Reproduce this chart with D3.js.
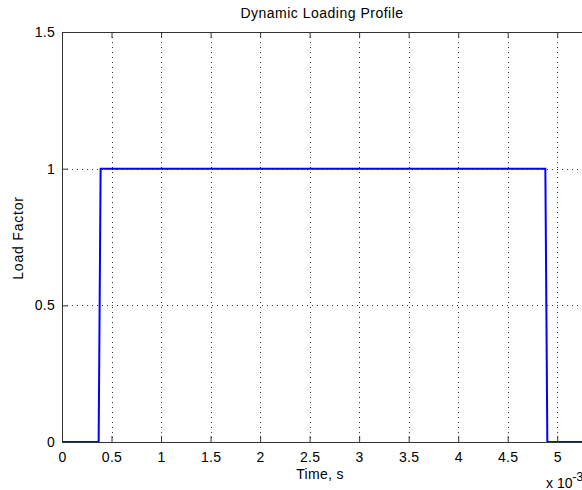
<!DOCTYPE html>
<html>
<head>
<meta charset="utf-8">
<script src="https://cdn.jsdelivr.net/npm/d3@7"></script>
<style>
  body { margin: 0; background: #fff; }
  text { font-family: "Liberation Sans", Arial, sans-serif; fill: #000; }
</style>
</head>
<body>
<svg width="582" height="490"></svg>
<script>
// time in units of 1e-3 s
var timeVals = [0, 0.37, 0.38, 0.39, 4.88, 4.89, 4.90, 5.6];
var loadVals = [0, 0, 0.5, 1, 1, 0.5, 0, 0];
var xTicks = [0, 0.5, 1, 1.5, 2, 2.5, 3, 3.5, 4, 4.5, 5];
var yTicks = [0, 0.5, 1, 1.5];

const pLeft = 62, pTop = 32, pRight = 582, pBottom = 442;

const svg = d3.select('svg');

const x = d3.scaleLinear().domain([0, 5.25]).range([pLeft, pRight]);
const y = d3.scaleLinear().domain([0, 1.5]).range([pBottom, pTop]);

// grid
const grid = svg.append('g').attr('stroke', '#333').attr('stroke-width', 1)
    .attr('stroke-dasharray', '1,4');
grid.selectAll('.gx').data(xTicks.slice(1)).enter().append('line')
    .attr('x1', d => Math.round(x(d)) + 0.5).attr('x2', d => Math.round(x(d)) + 0.5)
    .attr('y1', pTop).attr('y2', pBottom);
grid.selectAll('.gy').data(yTicks.slice(1, -1)).enter().append('line')
    .attr('y1', d => Math.round(y(d)) + 0.5).attr('y2', d => Math.round(y(d)) + 0.5)
    .attr('x1', pLeft).attr('x2', pRight);

// data line
const pts = timeVals.map((t, i) => [t, loadVals[i]]);
svg.append('clipPath').attr('id', 'clip').append('rect')
    .attr('x', pLeft).attr('y', pTop).attr('width', pRight - pLeft).attr('height', pBottom - pTop);
svg.append('path')
    .datum(pts)
    .attr('clip-path', 'url(#clip)')
    .attr('fill', 'none')
    .attr('stroke', '#0000ff')
    .attr('stroke-width', 2)
    .attr('d', d3.line().x(d => x(d[0])).y(d => y(d[1])));

// axes (MATLAB style: ticks inside)
const xAxis = svg.append('g')
    .attr('transform', `translate(0, ${pBottom})`)
    .call(d3.axisBottom(x).tickValues(xTicks).tickSize(-6).tickPadding(10).tickFormat(d3.format('')));
const xTop = svg.append('g')
    .attr('transform', `translate(0, ${pTop})`)
    .call(d3.axisTop(x).tickValues(xTicks).tickSize(-6).tickFormat(''));
const yAxis = svg.append('g')
    .attr('transform', `translate(${pLeft}, 0)`)
    .call(d3.axisLeft(y).tickValues(yTicks).tickSize(-6).tickPadding(7).tickFormat(d3.format('')));

[xAxis, xTop, yAxis].forEach(a => {
  a.select('.domain').attr('stroke', '#333');
  a.selectAll('.tick line').attr('stroke', '#333');
  a.selectAll('text').attr('font-size', 14).attr('fill', '#000')
      .attr('letter-spacing', 0.3)
      .attr('font-family', '"Liberation Sans", Arial, sans-serif');
});

// titles
svg.append('text').attr('x', 322).attr('y', 18).attr('text-anchor', 'middle')
    .attr('font-size', 14).attr('letter-spacing', 0.5).text('Dynamic Loading Profile');
svg.append('text').attr('x', 320).attr('y', 479).attr('text-anchor', 'middle')
    .attr('font-size', 14).attr('letter-spacing', 0.3).text('Time, s');
svg.append('text').attr('transform', 'translate(23, 238) rotate(-90)').attr('text-anchor', 'middle')
    .attr('font-size', 14).attr('letter-spacing', 0.8).text('Load Factor');

// exponent
const ex = svg.append('text').attr('x', 546).attr('y', 488).attr('font-size', 14);
ex.append('tspan').text('x 10');
ex.append('tspan').attr('dy', -7).attr('font-size', 12).text('-3');
</script>
</body>
</html>
